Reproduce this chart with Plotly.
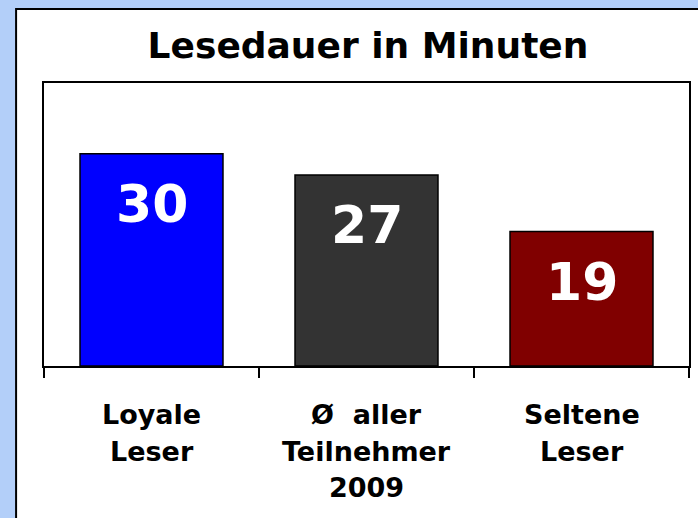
import plotly.graph_objects as go

categories = ["Loyale Leser", "Ø  aller Teilnehmer 2009", "Seltene Leser"]
label_lines = [["Loyale", "Leser"], ["Ø  aller", "Teilnehmer", "2009"], ["Seltene", "Leser"]]
values = [30, 27, 19]
colors = ["#0000FF", "#333333", "#800000"]
title_text = "Lesedauer in Minuten"

FONT = "Tahoma, DejaVu Sans, sans-serif"

fig = go.Figure()
fig.add_trace(go.Bar(
    x=categories, y=values,
    marker=dict(color=colors, line=dict(color="black", width=1.5)),
    hoverinfo="skip",
))

# value labels inside bars
for c, v in zip(categories, values):
    fig.add_annotation(x=c, y=v, xref="x", yref="y", text=f"<b>{v}</b>",
                       showarrow=False, yanchor="middle", yshift=-50,
                       font=dict(family=FONT, size=52, color="white"))

# category labels, one annotation per line
offsets = [48, 85, 121.5]
for c, lines in zip(categories, label_lines):
    for i, ln in enumerate(lines):
        fig.add_annotation(x=c, y=0, xref="x", yref="paper", text=f"<b>{ln}</b>",
                           showarrow=False, yanchor="middle", yshift=-offsets[i],
                           font=dict(family=FONT, size=27, color="black"))

# white panel with black border
fig.add_shape(type="rect", xref="paper", yref="paper",
              x0=(16 - 44) / 647, x1=1.2, y0=-0.7, y1=(366 - 9) / 283,
              fillcolor="white", line=dict(color="black", width=2), layer="below")

fig.update_layout(
    width=698, height=518,
    margin=dict(l=44, r=7, t=83, b=152),
    paper_bgcolor="#B3CFF9",
    plot_bgcolor="white",
    bargap=0.335,
    showlegend=False,
    title=dict(text=f"<b>{title_text}</b>", x=368 / 698, xanchor="center",
               y=1 - 45 / 518, yanchor="middle", yref="container",
               font=dict(family=FONT, size=36, color="black")),
    xaxis=dict(type="category", showticklabels=False, ticks="outside", tickson="boundaries",
               ticklen=10, tickwidth=1.5, tickcolor="black",
               showline=True, linecolor="black", linewidth=1.5, mirror=True,
               showgrid=False, zeroline=False, fixedrange=True),
    yaxis=dict(range=[0, 40], showticklabels=False, ticks="", showgrid=False, zeroline=False,
               showline=True, linecolor="black", linewidth=1.5, mirror=True, fixedrange=True),
)

fig.write_html("out.html", config={"displayModeBar": False},
               post_script="document.body.style.margin='0';document.body.style.overflow='hidden';")
